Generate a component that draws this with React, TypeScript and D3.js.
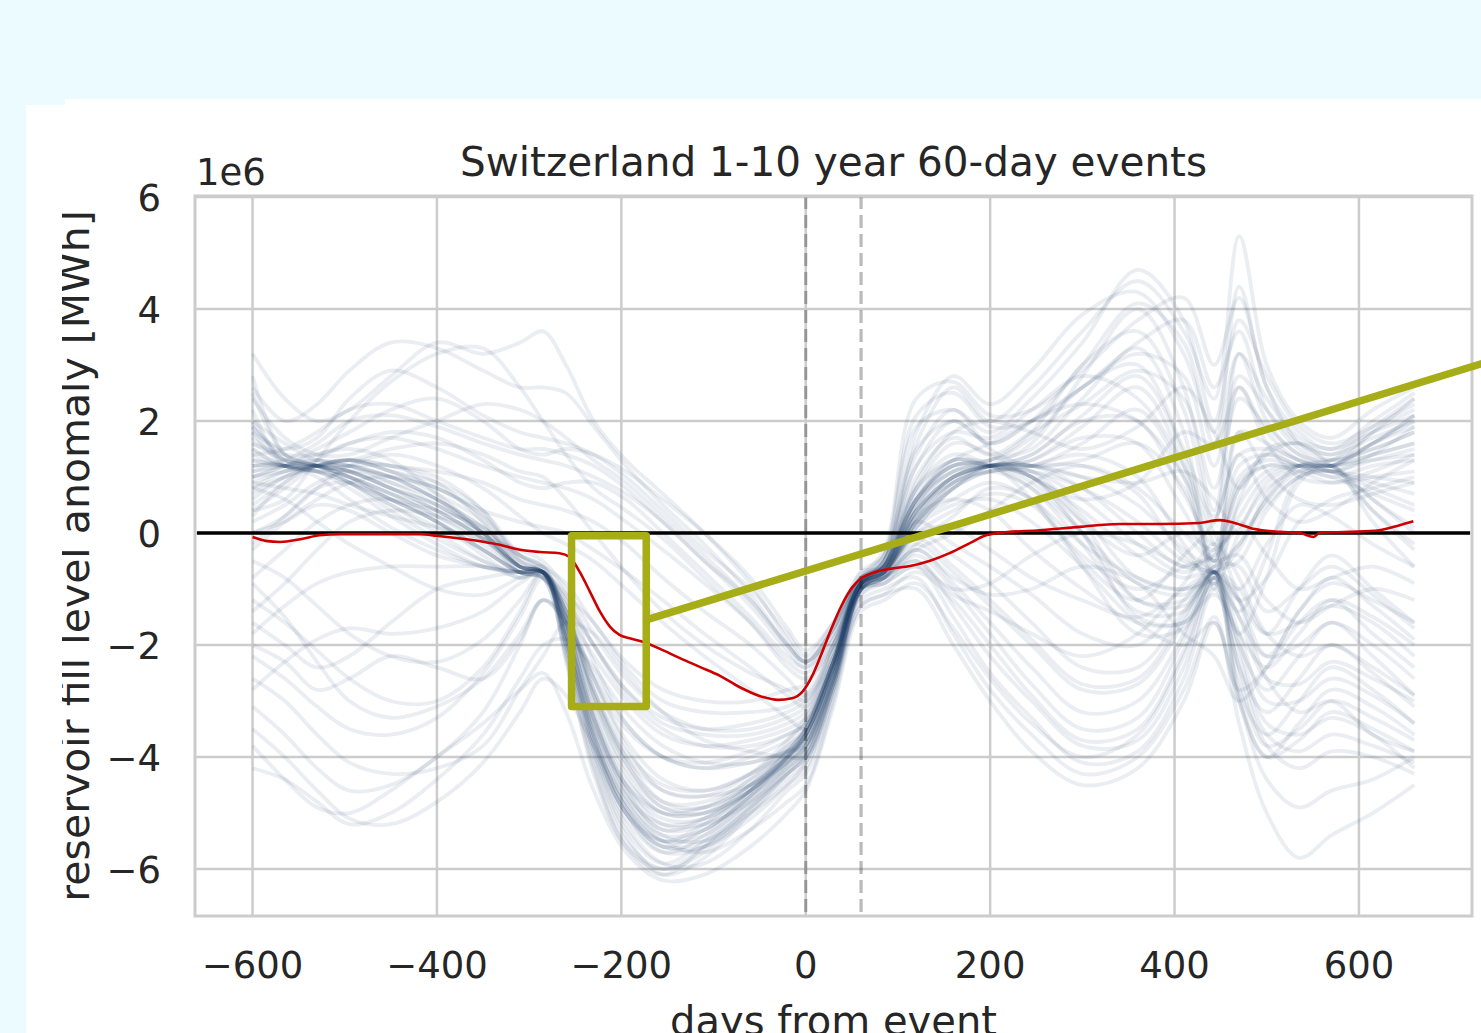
import React from 'react';
import * as d3 from 'd3';

const W = 1481;
const H = 1033;

const xTicks = [-600, -400, -200, 0, 200, 400, 600];
const xTickLabels = ['\u2212600', '\u2212400', '\u2212200', '0', '200', '400', '600'];
const yTicks = [-6, -4, -2, 0, 2, 4, 6];
const yTickLabels = ['\u22126', '\u22124', '\u22122', '0', '2', '4', '6'];
const eventMarkers = [0, 60];

const titleText = 'Switzerland 1-10 year 60-day events';
const xLabel = 'days from event';
const yLabel = 'reservoir fill level anomaly [MWh]';
const offsetText = '1e6';

// days at which each event trace is sampled
const dayGrid = [-600, -565, -530, -495, -450, -400, -350, -310, -285, -260, -230, -195, -155, -110, -60, -20, 0, 30, 60, 85, 120, 160, 200, 245, 300, 360, 410, 443, 470, 500, 535, 570, 615, 660];

// event traces (values in 1e6 MWh)
const ensemble: number[][] = [
  [1.3, 1.2, 1.2, 1.0, 0.7, 0.3, -0.2, -0.7, -0.7, -1.8, -3.6, -4.9, -5.6, -5.3, -4.7, -4.0, -3.6, -2.4, -0.9, -0.7, 0.4, 1.0, 1.2, 1.3, 1.9, 2.6, 1.2, -0.6, 0.8, 1.2, 1.2, 1.2, 1.4, 1.6],
  [1.7, 1.3, 1.2, 1.1, 0.9, 0.6, 0.0, -0.6, -0.7, -1.5, -3.0, -4.3, -5.0, -5.0, -4.5, -4.0, -3.7, -2.5, -1.0, -0.8, -0.3, -0.9, -1.6, -2.4, -3.2, -3.0, -1.8, -0.7, -1.8, -3.0, -3.0, -2.6, -2.9, -3.4],
  [0.9, 1.1, 1.2, 1.3, 1.1, 0.7, 0.2, -0.6, -0.8, -2.1, -4.0, -5.4, -6.1, -5.8, -5.0, -4.3, -4.0, -2.7, -1.0, -0.5, 1.2, 2.0, 1.6, 2.0, 2.6, 3.2, 2.8, 1.2, 2.8, 2.2, 1.6, 1.4, 1.7, 2.0],
  [2.2, 1.2, 1.1, 0.9, 0.5, 0.1, -0.3, -0.7, -0.7, -1.3, -2.6, -3.8, -4.6, -4.7, -4.3, -3.7, -3.3, -2.2, -0.9, -0.6, 0.2, 0.9, 1.2, 1.2, 0.8, 0.0, -0.6, -0.4, 0.3, 1.0, 1.2, 1.1, 0.9, 0.7],
  [1.4, 1.2, 1.3, 1.2, 1.0, 0.8, 0.3, -0.5, -0.7, -1.9, -3.8, -5.1, -5.7, -5.4, -4.6, -3.9, -3.5, -2.3, -0.8, -0.7, 0.5, 1.1, 1.2, 1.0, 0.4, -0.4, -0.8, -0.7, -2.0, -2.8, -2.2, -1.6, -2.2, -2.9],
  [0.6, 1.0, 1.2, 1.1, 0.8, 0.4, -0.1, -0.7, -0.8, -1.6, -3.2, -4.5, -5.2, -5.2, -4.8, -4.2, -3.9, -2.6, -1.0, -0.6, 0.6, 1.1, 1.3, 1.5, 2.4, 3.3, 1.8, -1.0, 1.8, 1.6, 1.3, 1.2, 1.6, 2.1],
  [2.8, 1.4, 1.2, 1.0, 0.6, 0.2, -0.4, -0.8, -0.7, -2.3, -4.2, -5.6, -6.1, -5.6, -4.8, -4.1, -3.6, -2.4, -0.9, -0.8, -0.5, -1.3, -2.2, -3.0, -3.8, -3.7, -2.4, -0.9, -2.2, -3.6, -3.9, -3.6, -3.8, -4.1],
  [1.1, 1.2, 1.1, 1.2, 1.2, 1.0, 0.4, -0.5, -0.7, -1.2, -2.0, -2.8, -3.3, -3.5, -3.4, -3.2, -3.0, -2.2, -0.8, -0.7, 0.1, 0.8, 1.2, 1.1, 0.3, -0.8, -1.0, -0.7, -0.2, 0.6, 1.1, 1.2, 0.6, 0.1],
  [1.9, 1.3, 1.2, 0.9, 0.4, -0.1, -0.5, -0.7, -0.6, -1.7, -3.4, -4.7, -5.4, -5.5, -5.0, -4.5, -4.2, -2.8, -1.0, -0.7, 0.3, 1.0, 1.2, 1.2, 1.0, 0.5, -0.3, -0.7, -1.2, -1.8, -1.0, -0.4, -1.0, -1.6],
  [0.3, 0.9, 1.2, 1.3, 1.2, 0.9, 0.2, -0.6, -0.7, -1.4, -2.8, -4.0, -4.8, -4.9, -4.5, -3.9, -3.5, -2.3, -0.9, -0.6, 0.5, 1.2, 1.2, 1.4, 2.0, 2.0, 0.7, -0.2, 1.2, 1.4, 1.2, 1.0, 1.2, 1.3],
  [1.5, 1.2, 1.2, 1.1, 0.8, 0.5, 0.0, -0.6, -0.7, -2.0, -3.9, -5.2, -5.9, -5.9, -5.3, -4.6, -4.3, -2.9, -1.1, -0.8, 0.0, -0.4, -0.9, -1.6, -2.4, -2.4, -1.4, -0.7, -1.2, -2.2, -2.0, -1.6, -2.0, -2.6],
  [1.0, 1.1, 1.2, 1.0, 0.6, 0.4, 0.1, -0.5, -0.7, -1.1, -1.6, -2.4, -3.0, -3.2, -3.2, -3.1, -2.9, -2.0, -0.8, -0.6, 0.3, 0.9, 1.1, 1.2, 1.4, 1.0, -0.2, -0.9, 0.0, 0.9, 1.2, 1.3, 1.8, 2.4],
  [0.5, 0.9, 1.3, 1.6, 1.7, 1.5, 1.2, 1.0, 0.9, 0.8, 0.6, 0.2, -0.3, -0.9, -1.6, -2.3, -2.5, -1.9, -0.9, -0.5, 1.6, 2.6, 2.0, 2.6, 3.6, 4.5, 3.6, 2.4, 5.3, 3.0, 2.0, 1.7, 2.2, 2.6],
  [1.2, 1.3, 1.6, 2.0, 2.1, 1.9, 1.6, 1.4, 1.3, 1.2, 1.0, 0.7, 0.2, -0.5, -1.3, -2.1, -2.4, -1.8, -0.8, -0.4, 1.9, 2.2, 1.8, 2.4, 3.4, 4.7, 3.8, 2.0, 3.8, 2.8, 1.9, 1.6, 1.9, 2.3],
  [-0.3, 0.2, 0.6, 0.9, 1.0, 0.8, 0.4, 0.2, 0.1, 0.0, -0.3, -0.7, -1.2, -1.8, -2.4, -2.9, -3.1, -2.1, -1.0, -0.8, 0.2, -0.2, -0.6, -1.1, -1.8, -2.0, -1.2, -0.6, -0.6, -1.4, -1.0, -0.6, -1.1, -1.7],
  [2.4, 1.7, 1.4, 1.4, 1.7, 2.0, 2.3, 2.2, 2.0, 1.7, 1.3, 0.9, 0.3, -0.4, -1.2, -2.0, -2.3, -1.7, -0.8, -0.3, 2.4, 2.7, 2.1, 2.2, 2.9, 3.8, 4.2, 3.0, 4.2, 2.6, 1.6, 1.3, 1.5, 1.8],
  [0.8, 1.0, 1.2, 1.3, 1.2, 1.1, 0.9, 0.6, 0.5, 0.4, 0.2, -0.2, -0.8, -1.4, -2.0, -2.6, -2.9, -2.0, -0.9, -0.7, 0.7, 1.3, 1.2, 1.0, 0.2, -1.2, -1.3, -0.8, -1.4, -0.4, 1.0, 1.2, 0.4, -0.3],
  [1.6, 1.4, 1.4, 1.6, 1.8, 1.7, 1.3, 0.9, 0.8, 0.9, 0.9, 0.6, 0.0, -0.7, -1.5, -2.2, -2.4, -1.8, -0.8, -0.5, 1.4, 2.2, 1.5, 1.2, 1.3, 1.6, 0.8, -0.5, 1.8, 1.1, 0.6, 0.5, 0.7, 0.9],
  [0.0, 0.3, 0.8, 1.2, 1.4, 1.2, 0.8, 0.3, 0.0, -0.2, -0.5, -1.0, -1.6, -2.2, -2.8, -3.3, -3.5, -2.3, -1.0, -0.9, -0.4, -1.0, -1.8, -2.7, -3.5, -3.3, -1.9, -0.7, -2.6, -3.8, -3.5, -3.0, -3.3, -3.7],
  [1.0, 1.2, 1.5, 1.8, 2.2, 2.4, 2.0, 1.5, 1.4, 1.5, 1.4, 1.1, 0.6, 0.0, -0.8, -1.7, -2.1, -1.6, -0.8, -0.6, 0.4, 1.0, 1.2, 1.6, 2.8, 4.0, 2.6, 0.4, 3.2, 2.0, 1.4, 1.2, 1.8, 2.2],
  [3.2, 2.4, 2.0, 2.2, 2.8, 3.4, 3.2, 3.4, 3.6, 3.0, 2.0, 1.3, 0.7, 0.0, -0.9, -1.9, -2.3, -1.7, -0.7, -0.4, 1.8, 2.8, 2.3, 2.9, 3.9, 4.3, 3.2, 1.8, 4.4, 2.6, 1.8, 1.5, 2.0, 2.5],
  [2.6, 2.0, 2.3, 2.9, 3.4, 3.3, 2.9, 2.6, 2.6, 2.5, 1.9, 1.2, 0.5, -0.2, -1.1, -2.0, -2.3, -1.7, -0.7, -0.6, 1.0, 1.7, 1.4, 1.8, 2.3, 2.9, 2.4, 0.8, 2.4, 1.9, 1.4, 1.3, 1.5, 1.8],
  [0.4, 0.6, 1.3, 2.0, 2.7, 3.2, 3.3, 2.6, 2.0, 1.4, 0.8, 0.4, -0.1, -0.8, -1.6, -2.4, -2.6, -2.0, -0.9, -0.6, 0.8, 1.3, 1.3, 1.7, 2.6, 3.0, 1.5, 0.3, 1.4, 1.5, 1.3, 1.1, 1.4, 1.9],
  [-2.2, -2.6, -3.1, -3.5, -3.6, -3.3, -2.5, -1.5, -0.8, -1.8, -3.4, -4.5, -5.0, -4.9, -4.4, -3.9, -3.6, -2.4, -0.9, -0.8, -0.2, -0.7, -1.3, -2.0, -2.8, -2.7, -1.6, -0.7, -1.5, -2.6, -2.7, -2.3, -2.6, -3.0],
  [-3.1, -3.6, -4.2, -4.6, -4.5, -4.0, -3.2, -2.0, -1.2, -1.5, -2.6, -3.7, -4.4, -4.6, -4.3, -3.8, -3.5, -2.3, -1.0, -0.9, -0.6, -1.5, -2.5, -3.3, -4.1, -3.9, -2.6, -1.0, -2.4, -3.8, -4.2, -3.9, -4.0, -4.3],
  [-1.2, -1.6, -2.1, -2.6, -3.0, -3.0, -2.4, -1.4, -0.7, -1.9, -3.7, -5.0, -5.5, -5.2, -4.6, -4.0, -3.6, -2.4, -0.9, -0.6, 0.8, 1.4, 1.2, 0.8, -0.2, -1.4, -1.4, -0.7, -2.8, -3.6, -3.0, -2.4, -2.8, -3.4],
  [-4.2, -4.4, -4.8, -5.2, -5.0, -4.4, -3.6, -2.6, -2.0, -1.9, -2.4, -3.2, -3.8, -4.1, -4.1, -3.9, -3.8, -2.7, -1.2, -1.0, -0.8, -1.8, -2.8, -3.6, -4.3, -4.0, -2.8, -1.5, -3.4, -5.0, -5.8, -5.4, -5.0, -4.5],
  [-2.6, -3.0, -3.6, -4.1, -4.3, -4.2, -3.8, -2.8, -2.2, -1.6, -1.8, -2.5, -3.2, -3.7, -3.9, -4.0, -4.0, -2.8, -1.3, -1.1, -0.7, -1.2, -2.0, -2.9, -3.7, -3.5, -2.1, -0.8, -2.9, -4.0, -3.7, -3.2, -3.5, -3.9],
  [-0.5, -0.8, -1.3, -1.8, -2.2, -2.3, -1.9, -1.2, -0.7, -1.4, -2.2, -3.0, -3.6, -3.8, -3.7, -3.5, -3.3, -2.3, -0.9, -0.7, 0.1, 0.8, 1.1, 1.1, 0.6, -0.2, -0.7, -0.3, 0.1, 0.8, 1.1, 1.0, 0.7, 0.4],
  [-3.5, -4.0, -4.6, -5.1, -5.2, -4.8, -4.1, -3.2, -2.6, -2.9, -3.8, -4.8, -5.5, -5.7, -5.3, -4.8, -4.5, -3.0, -1.3, -1.1, -1.0, -2.0, -3.0, -3.9, -4.5, -4.2, -3.0, -1.6, -3.0, -4.4, -4.9, -4.6, -4.4, -4.0],
  [-3.8, -4.4, -4.9, -5.0, -4.6, -4.0, -3.4, -2.8, -2.5, -3.2, -4.6, -5.7, -6.2, -6.1, -5.6, -5.0, -4.6, -3.1, -1.4, -1.2, -0.9, -1.7, -2.6, -3.4, -4.0, -3.6, -2.2, -0.8, -2.0, -3.4, -3.6, -3.3, -3.6, -4.2],
  [-1.8, -1.3, -0.9, -0.7, -0.6, -0.6, -0.6, -0.7, -0.7, -1.7, -3.5, -4.7, -5.2, -5.1, -4.6, -4.0, -3.6, -2.4, -0.9, -0.5, 0.6, 1.3, 1.2, 1.3, 1.7, 1.6, 0.4, -0.5, 0.9, 1.2, 1.1, 0.9, 1.0, 1.1],
  [-2.8, -2.3, -1.9, -1.7, -1.8, -1.7, -1.4, -0.9, -0.7, -1.4, -2.9, -4.0, -4.6, -4.7, -4.5, -4.1, -3.8, -2.6, -1.0, -0.7, 0.4, 0.9, 1.1, 0.8, 0.0, -0.9, -1.1, -0.7, -2.4, -3.2, -2.6, -2.0, -2.5, -3.1],
  [0.0, 0.2, 0.5, 0.4, 0.0, -0.4, -0.6, -0.7, -0.7, -1.6, -3.3, -4.6, -5.3, -5.2, -4.6, -4.0, -3.7, -2.5, -0.9, -0.6, 0.5, 1.1, 1.2, 1.4, 2.1, 2.8, 1.4, -0.5, 1.0, 1.3, 1.2, 1.1, 1.3, 1.5],
  [-0.8, -0.3, 0.2, 0.5, 0.6, 0.2, -0.3, -0.7, -0.8, -1.3, -2.0, -2.8, -3.4, -3.6, -3.6, -3.4, -3.2, -2.3, -0.9, -0.7, 0.2, 0.8, 1.1, 1.1, 0.8, 0.2, -0.5, -0.7, -1.5, -2.2, -1.4, -0.8, -1.3, -1.9],
  [0.8, 0.6, 0.2, -0.2, -0.6, -1.0, -1.1, -0.8, -0.7, -2.2, -4.3, -5.6, -6.0, -5.6, -4.9, -4.3, -3.9, -2.6, -1.0, -0.6, 0.6, 1.2, 1.2, 0.9, 0.0, -1.5, -1.6, -0.9, -1.8, -0.8, 0.9, 1.2, 0.2, -0.6],
  [1.1, 1.2, 1.3, 1.1, 0.8, 0.4, -0.1, -0.6, -0.7, -1.6, -3.3, -4.6, -5.3, -5.1, -4.5, -3.9, -3.5, -2.3, -0.9, -0.7, 0.2, 0.8, 1.2, 1.2, 1.2, 0.7, -0.4, -0.7, -0.3, 0.7, 1.2, 1.3, 1.6, 2.1],
  [0.7, 1.0, 1.2, 1.2, 1.0, 0.6, 0.0, -0.7, -0.8, -2.2, -4.1, -5.5, -6.0, -5.7, -4.9, -4.2, -3.8, -2.6, -1.0, -0.8, -0.1, -0.6, -1.2, -1.9, -2.7, -2.6, -1.5, -0.7, -1.0, -1.8, -1.6, -1.3, -1.6, -2.2],
  [1.6, 1.3, 1.2, 1.3, 1.1, 0.9, 0.4, -0.4, -0.7, -1.8, -3.6, -4.9, -5.5, -5.3, -4.7, -4.1, -3.7, -2.5, -0.9, -0.7, 0.2, 0.9, 1.2, 1.0, 0.0, -1.2, -1.2, -0.7, -0.5, 0.4, 1.0, 1.1, 0.4, -0.2],
  [2.5, 1.4, 1.2, 0.9, 0.5, 0.0, -0.5, -0.8, -0.7, -2.0, -3.9, -5.3, -5.9, -5.5, -4.7, -4.0, -3.5, -2.3, -0.9, -0.5, 1.5, 2.0, 1.6, 2.0, 3.0, 4.1, 3.4, 1.6, 3.2, 2.4, 1.7, 1.5, 1.8, 2.1],
  [1.8, 1.2, 1.1, 0.8, 0.3, -0.2, -0.6, -0.7, -0.7, -1.8, -3.6, -4.9, -5.5, -5.4, -4.8, -4.3, -4.0, -2.7, -1.0, -0.7, 0.6, 1.2, 1.2, 0.6, -0.6, -1.8, -1.7, -0.8, -3.0, -4.0, -3.4, -2.8, -3.1, -3.6],
  [1.4, 1.5, 1.8, 2.2, 2.3, 2.0, 1.7, 1.5, 1.5, 1.4, 1.2, 0.8, 0.2, -0.5, -1.2, -2.0, -2.3, -1.7, -0.8, -0.6, 0.6, 1.2, 1.3, 1.8, 3.0, 3.6, 2.2, 0.2, 2.6, 1.8, 1.3, 1.2, 1.6, 2.0],
  [1.3, 1.2, 1.1, 1.0, 0.7, 0.3, -0.1, -0.6, -0.7, -1.9, -3.7, -5.0, -5.7, -5.6, -5.0, -4.4, -4.1, -2.8, -1.0, -0.7, 0.3, 1.0, 1.2, 1.2, 1.6, 2.2, 1.0, -0.7, 0.5, 1.1, 1.2, 1.2, 1.3, 1.4],
  [1.9, 1.4, 1.2, 1.1, 0.8, 0.5, 0.0, -0.6, -0.7, -1.4, -2.8, -4.1, -4.9, -4.9, -4.5, -4.0, -3.6, -2.4, -0.9, -0.4, 2.1, 2.5, 1.9, 2.0, 2.6, 3.4, 3.8, 2.6, 3.6, 2.2, 1.5, 1.2, 1.4, 1.6],
  [1.2, 1.2, 1.1, 0.9, 0.6, 0.2, -0.3, -0.7, -0.8, -1.5, -2.6, -3.5, -4.0, -4.1, -3.9, -3.6, -3.4, -2.3, -0.9, -0.7, 0.0, 0.1, -0.3, -0.8, -1.2, -1.5, -1.0, -0.6, -0.2, 0.5, 1.0, 1.1, 0.8, 0.5],
  [0.2, 0.5, 0.9, 1.1, 1.0, 0.6, 0.1, -0.4, -0.6, -1.1, -2.0, -2.9, -3.5, -3.8, -3.8, -3.6, -3.4, -2.2, -0.9, -0.7, 0.3, 0.6, 0.4, -0.3, -1.0, -1.6, -1.6, -1.1, -1.8, -2.4, -1.8, -1.2, -1.5, -2.0],
  [-1.4, -0.9, -0.3, 0.2, 0.4, 0.3, 0.0, -0.4, -0.6, -1.6, -3.2, -4.4, -5.0, -5.0, -4.6, -4.1, -3.8, -2.5, -1.0, -0.8, -0.2, 0.3, 0.8, 0.6, -0.5, -1.2, -0.4, 0.2, 1.4, 0.6, 0.2, 0.4, 0.9, 1.3],
  [1.8, 1.5, 1.7, 2.4, 2.9, 2.6, 2.1, 1.8, 1.7, 1.6, 1.4, 1.0, 0.4, -0.3, -1.0, -1.8, -2.2, -1.6, -0.8, -0.6, 1.2, 1.8, 1.7, 2.2, 2.8, 2.4, 1.2, 0.0, -0.8, -1.8, -2.2, -2.0, -2.4, -2.9],
  [0.9, 0.8, 0.7, 0.5, 0.3, 0.1, -0.1, -0.3, -0.5, -1.0, -1.8, -2.6, -3.2, -3.5, -3.5, -3.3, -3.1, -2.1, -0.9, -0.7, 0.0, 0.4, 0.7, 0.5, -0.4, -1.0, -0.6, -0.4, 0.2, -0.4, -1.0, -0.8, -0.6, -0.9],
  [-2.0, -2.3, -2.8, -2.6, -2.2, -2.4, -2.6, -1.9, -1.2, -1.6, -2.8, -3.9, -4.5, -4.6, -4.3, -3.9, -3.6, -2.4, -1.0, -0.8, -0.3, 0.0, 0.4, 0.9, 1.2, 0.8, 0.0, -0.5, -0.4, -1.2, -1.6, -1.3, -1.0, -1.2],
  [1.5, 1.2, 1.2, 1.2, 1.0, 0.6, 0.1, -0.6, -0.7, -1.6, -3.3, -4.5, -5.1, -5.1, -4.6, -4.1, -3.8, -2.5, -0.9, -0.6, 0.4, 1.0, 1.2, 1.2, 1.0, 0.9, 1.1, 0.6, 0.0, 0.6, 1.2, 1.2, 1.6, 1.9],
  [1.2, 1.2, 1.0, 0.6, 0.1, -0.3, -0.6, -0.7, -0.7, -1.4, -2.9, -4.1, -4.8, -4.8, -4.4, -3.8, -3.5, -2.3, -0.9, -0.8, -0.5, -1.1, -1.4, -1.8, -2.2, -1.8, -0.9, -0.2, -1.2, -2.6, -3.2, -3.0, -3.6, -3.9],
  [2.0, 1.6, 1.3, 1.3, 1.5, 1.6, 1.4, 1.1, 1.0, 0.6, 0.0, -0.7, -1.4, -2.0, -2.5, -2.8, -3.0, -2.0, -0.9, -0.6, 0.8, 1.6, 1.4, 1.0, 0.6, 0.9, 1.8, 1.6, 2.6, 1.6, 1.0, 0.9, 1.1, 1.4],
  [0.8, 1.1, 1.2, 1.2, 0.9, 0.5, 0.0, -0.6, -0.7, -2.0, -3.8, -5.0, -5.6, -5.5, -4.9, -4.3, -4.0, -2.7, -1.0, -0.7, 0.1, 0.5, 0.6, 0.2, -0.6, -1.6, -2.0, -1.6, -2.8, -2.4, -1.6, -1.2, -1.8, -2.4],
  [-1.6, -2.0, -2.4, -2.2, -1.6, -1.0, -0.8, -0.7, -0.7, -1.2, -2.3, -3.4, -4.0, -4.2, -4.0, -3.7, -3.4, -2.3, -0.9, -0.5, 0.9, 1.8, 2.0, 1.8, 1.5, 1.9, 2.6, 1.8, 0.8, 1.5, 1.6, 1.4, 1.9, 2.4],
  [-0.9, -1.5, -2.3, -3.0, -3.3, -3.1, -2.6, -1.8, -1.2, -1.6, -2.5, -3.4, -4.0, -4.2, -4.1, -3.9, -3.7, -2.6, -1.1, -0.9, -0.6, -1.0, -0.9, -0.4, 0.0, -0.2, -0.6, -0.7, -1.0, -0.2, 0.5, 0.3, -0.2, -0.6],
  [1.0, 1.2, 1.4, 1.5, 1.3, 0.7, 0.0, -0.6, -0.7, -1.7, -3.5, -4.8, -5.4, -5.3, -4.7, -4.2, -3.9, -2.6, -1.0, -0.7, 0.4, 1.0, 1.2, 1.0, 0.2, -0.4, 0.0, -0.3, 0.8, 1.4, 1.2, 1.1, 1.0, 0.9],
  [2.0, 1.3, 1.2, 1.0, 0.7, 0.4, -0.1, -0.6, -0.7, -1.5, -3.0, -4.2, -4.9, -5.0, -4.6, -4.0, -3.6, -2.4, -0.9, -0.7, 0.2, 0.6, 0.9, 0.6, -0.2, -0.8, -1.0, -0.8, 0.6, 1.4, 1.6, 1.2, 0.6, 0.0],
  [0.4, 0.8, 1.2, 1.3, 1.1, 0.8, 0.3, -0.4, -0.6, -0.9, -1.6, -2.3, -2.8, -3.0, -3.0, -2.8, -2.7, -1.9, -0.9, -0.6, 0.6, 1.3, 1.6, 2.0, 2.3, 2.0, 1.0, -0.2, -1.2, -0.8, 0.2, 0.6, 0.8, 1.0],
  [-0.2, 0.3, 0.8, 0.9, 0.6, 0.2, -0.3, -0.7, -0.7, -1.9, -3.7, -5.0, -5.6, -5.6, -5.1, -4.5, -4.1, -2.7, -1.0, -0.8, -0.3, -0.8, -1.1, -1.0, -0.6, -0.9, -1.8, -2.2, -3.0, -2.4, -1.4, -0.9, -1.2, -1.6],
];

// ensemble mean
const meanDays = [-600, -586, -570, -548, -527, -505, -462, -418, -400, -364, -332, -310, -288, -267, -256, -245, -234, -223, -212, -202, -191, -175, -158, -137, -115, -93, -72, -50, -30, -15, -4, 7, 17, 28, 39, 50, 61, 75, 91, 113, 134, 156, 178, 194, 210, 254, 297, 340, 384, 427, 449, 465, 487, 514, 536, 551, 557, 590, 622, 644, 659];
const meanValues = [-0.07, -0.14, -0.16, -0.11, -0.04, -0.02, -0.02, -0.02, -0.05, -0.12, -0.21, -0.30, -0.34, -0.36, -0.43, -0.70, -1.05, -1.41, -1.68, -1.82, -1.88, -1.95, -2.07, -2.23, -2.39, -2.55, -2.75, -2.91, -2.98, -2.95, -2.84, -2.55, -2.16, -1.70, -1.29, -0.98, -0.80, -0.70, -0.64, -0.59, -0.50, -0.36, -0.18, -0.05, 0.0, 0.05, 0.11, 0.16, 0.16, 0.18, 0.23, 0.18, 0.07, 0.02, 0.0, -0.07, 0.0, 0.02, 0.05, 0.14, 0.21];

// highlight annotation
const boxDays = [-254, -173];
const boxValues = [-0.05, -3.1];
const connectorDays = [-173, 760];
const connectorValues = [-1.55, 3.16];

const FONT = 'DejaVu Sans, Liberation Sans, sans-serif';

export default function App() {
  const L = 195, R = 1472, T = 196, B = 916;
  const x = d3.scaleLinear().domain([-662.4, 722.6]).range([L, R]);
  const y = d3.scaleLinear().domain([-6.839, 6.018]).range([B, T]);

  const ensLine = d3
    .line<number>()
    .x((_, i) => x(dayGrid[i]))
    .y((v) => y(v))
    .curve(d3.curveCatmullRom.alpha(0.5));

  const meanLine = d3
    .line<number>()
    .x((_, i) => x(meanDays[i]))
    .y((v) => y(v))
    .curve(d3.curveMonotoneX);

  const textColor = '#262626';
  const grid = '#cccccc';

  return (
    <svg width={W} height={H} style={{ position: 'absolute', left: 0, top: 0, display: 'block' }} xmlns="http://www.w3.org/2000/svg">
      <defs>
        <clipPath id="plotClip">
          <rect x={L} y={T} width={R - L} height={B - T} />
        </clipPath>
        <clipPath id="ylabClip">
          <rect x={62} y={0} width={200} height={H} />
        </clipPath>
      </defs>
      <rect x={0} y={0} width={W} height={H} fill="#ebfbff" />
      <rect x={65} y={99} width={W - 65} height={H - 99} fill="#ffffff" />
      <rect x={26} y={105} width={W - 26} height={H - 105} fill="#ffffff" />

      {/* grid */}
      {xTicks.map((t) => (
        <line key={'gx' + t} x1={x(t)} x2={x(t)} y1={T} y2={B} stroke={grid} strokeWidth={2.5} />
      ))}
      {yTicks.map((t) => (
        <line key={'gy' + t} x1={L} x2={R} y1={y(t)} y2={y(t)} stroke={grid} strokeWidth={2.5} />
      ))}

      <g clipPath="url(#plotClip)">
        {ensemble.map((vals, i) => (
          <path key={'e' + i} d={ensLine(vals) || ''} fill="none" stroke="#1d3d68" strokeOpacity={0.095} strokeWidth={3.8} strokeLinejoin="round" />
        ))}
        {eventMarkers.map((d) => (
          <line key={'ev' + d} x1={x(d)} x2={x(d)} y1={T} y2={B} stroke="#000" strokeOpacity={0.27} strokeWidth={3.2} strokeDasharray="13 6" />
        ))}
        <line x1={L + 2} x2={R - 2} y1={y(0)} y2={y(0)} stroke="#000" strokeWidth={3.5} />
        <path d={meanLine(meanValues) || ''} fill="none" stroke="#cc0000" strokeWidth={2.6} strokeLinejoin="round" />
      </g>

      {/* frame */}
      <rect x={L} y={T} width={R - L} height={B - T} fill="none" stroke={grid} strokeWidth={3} />

      {/* annotation */}
      <rect
        x={x(boxDays[0])}
        y={y(boxValues[0])}
        width={x(boxDays[1]) - x(boxDays[0])}
        height={y(boxValues[1]) - y(boxValues[0])}
        fill="none"
        stroke="#a6ad17"
        strokeWidth={7.5}
        strokeLinejoin="round"
      />
      <line
        x1={x(connectorDays[0])}
        y1={y(connectorValues[0])}
        x2={x(connectorDays[1])}
        y2={y(connectorValues[1])}
        stroke="#a6ad17"
        strokeWidth={7.5}
      />

      {/* ticks */}
      {xTicks.map((t, i) => (
        <text key={'xt' + t} x={x(t)} y={978} textAnchor="middle" fontFamily={FONT} fontSize={37} fill={textColor}>
          {xTickLabels[i]}
        </text>
      ))}
      {yTicks.map((t, i) => (
        <text key={'yt' + t} x={161} y={y(t) + 13.5} textAnchor="end" fontFamily={FONT} fontSize={37} fill={textColor}>
          {yTickLabels[i]}
        </text>
      ))}
      <text x={196} y={185} fontFamily={FONT} fontSize={37} fill={textColor}>
        {offsetText}
      </text>
      <text x={(L + R) / 2} y={176} textAnchor="middle" fontFamily={FONT} fontSize={40.5} fill={textColor}>
        {titleText}
      </text>
      <text x={(L + R) / 2} y={1035} textAnchor="middle" fontFamily={FONT} fontSize={40} fill={textColor}>
        {xLabel}
      </text>
      <g clipPath="url(#ylabClip)">
        <text
          transform={`translate(88.5, ${(T + B) / 2}) rotate(-90)`}
          textAnchor="middle"
          fontFamily={FONT}
          fontSize={41}
          fill={textColor}
        >
          {yLabel}
        </text>
      </g>
    </svg>
  );
}
